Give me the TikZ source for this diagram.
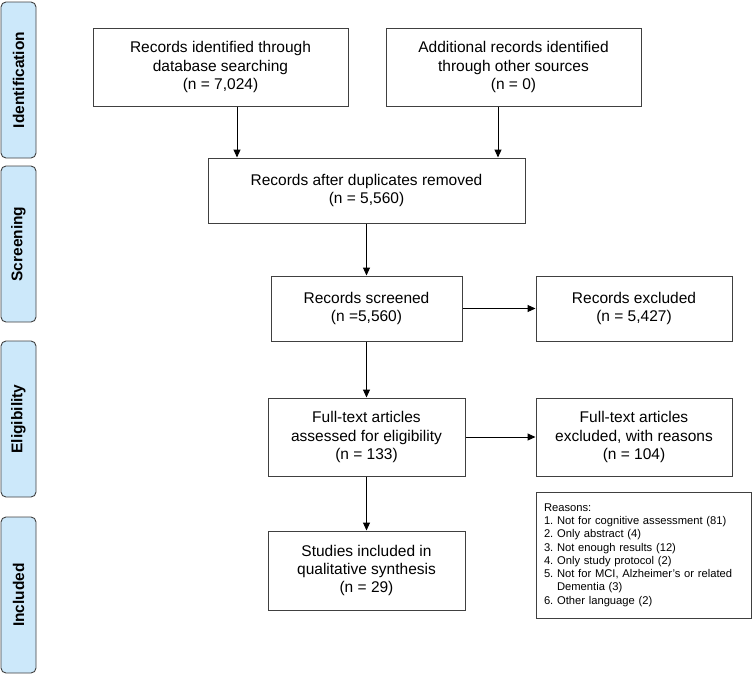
\documentclass[tikz,border=0pt]{standalone}
\usepackage{fontspec}
\setmainfont{Liberation Sans}
\usetikzlibrary{arrows.meta}
\frenchspacing
\definecolor{phasefill}{RGB}{204,232,250}
\definecolor{lineclr}{RGB}{64,64,64}
\tikzset{
  flowbox/.style={draw=lineclr, line width=1pt, align=center, inner sep=2pt,
    font=\fontsize{15.5}{18.3}\selectfont},
  phase/.style={draw=lineclr, line width=0.9pt, fill=phasefill, rounded corners=5pt,
    rotate=90, minimum width=156pt, minimum height=35pt, inner sep=0pt,
    font=\bfseries\fontsize{15.5}{18}\selectfont},
  arr/.style={draw=black, line width=1pt, -{Triangle[length=8pt,width=7pt]}},
  reasons/.style={draw=lineclr, line width=1pt, align=left, inner sep=0pt,
    text width=199pt, minimum width=215pt, minimum height=126pt,
    font=\fontsize{11.2}{13.3}\selectfont}
}
\begin{document}
\begin{tikzpicture}[x=1pt,y=-1pt]
\useasboundingbox (0,0) rectangle (752,675);
% phase labels
\node[phase] (pid) at (18.5,80) {Identification};
\node[phase] (psc) at (18.5,244) {Screening};
\node[phase] (pel) at (18.5,419) {Eligibility};
\node[phase] (pin) at (18.5,595) {Included};
% boxes
\node[flowbox, minimum width=255pt, minimum height=78pt] (b1) at (220.5,67)
  {Records identified through\\database searching\\(n = 7,024)};
\node[flowbox, minimum width=255pt, minimum height=78pt] (b2) at (513.5,67)
  {Additional records identified\\through other sources\\(n = 0)};
\node[flowbox, minimum width=317pt, minimum height=65pt] (b3) at (366.5,190.5)
  {Records after duplicates removed\\(n = 5,560)};
\node[flowbox, minimum width=191pt, minimum height=65pt] (b4) at (366.5,308.5)
  {Records screened\\(n =5,560)};
\node[flowbox, minimum width=196pt, minimum height=65pt] (b5) at (634,308.5)
  {Records excluded\\(n = 5,427)};
\node[flowbox, minimum width=197pt, minimum height=78pt] (b6) at (366.5,437)
  {Full-text articles\\assessed for eligibility\\(n = 133)};
\node[flowbox, minimum width=196pt, minimum height=78pt] (b7) at (634,437)
  {Full-text articles\\excluded, with reasons\\(n = 104)};
\node[flowbox, minimum width=197pt, minimum height=79pt] (b8) at (366.5,570.5)
  {Studies included in\\qualitative synthesis\\(n = 29)};
\node[reasons] (r) at (643.5,555)
  {Reasons:\\
   1. Not for cognitive assessment (81)\\
   2. Only abstract (4)\\
   3. Not enough results (12)\\
   4. Only study protocol (2)\\
   5. Not for MCI, Alzheimer's or related\\
   \hphantom{5. }Dementia (3)\\
   6. Other language (2)};
% connectors
\draw[arr] ([xshift=16.5pt]b1.south) -- ([xshift=16.5pt]b1.south |- b3.north);
\draw[arr] ([xshift=-15.5pt]b2.south) -- ([xshift=-15.5pt]b2.south |- b3.north);
\draw[arr] (b3.south) -- (b4.north);
\draw[arr] (b4.east) -- (b5.west);
\draw[arr] (b4.south) -- (b6.north);
\draw[arr] (b6.east) -- (b7.west);
\draw[arr] (b6.south) -- (b8.north);
\end{tikzpicture}
\end{document}
